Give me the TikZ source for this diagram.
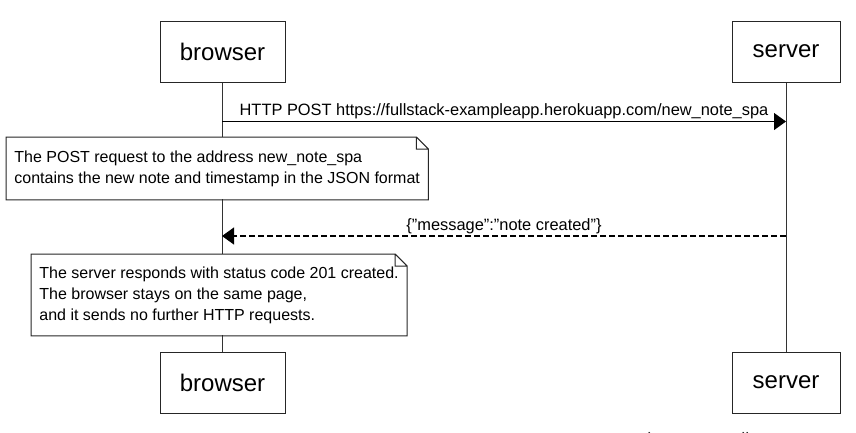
\documentclass[tikz,border=0pt]{standalone}
\usepackage{fontspec}
\setmainfont{Liberation Sans}
\usetikzlibrary{arrows.meta,backgrounds}

\begin{document}
\begin{tikzpicture}[x=1pt,y=-1pt,thick,
    actor box/.style={draw=black!85,line width=1pt,fill=white,minimum height=61pt,inner sep=0pt,font=\fontsize{24}{24}\selectfont},
    note box/.style={fill=white,inner xsep=8pt,inner ysep=0pt,align=left,anchor=north west,font=\fontsize{16}{21}\selectfont},
    msg/.style={line width=1.2pt,-{Triangle[length=12pt,width=17pt]}},
    reply/.style={msg,dash pattern=on 6pt off 3pt},
    msg label/.style={above=1pt,inner sep=1pt,font=\fontsize{16.4}{16.4}\selectfont},
    life line/.style={line width=1pt,black!80}]
                    \useasboundingbox (0,0) rectangle (856,432);

                    \node[actor box,minimum width=125pt] (browserTop) at (222.5,51.5) {browser};
                    \node[actor box,minimum width=108pt] (serverTop) at (786,51.5) {server};
                    \node[actor box,minimum width=125pt] (browserBot) at (222.5,382.5) {browser};
                    \node[actor box,minimum width=108pt] (serverBot) at (786,382.5) {server};

                    \begin{scope}[on background layer]
                        \draw[life line] (browserTop) -- (browserBot);
                        \draw[life line] (serverTop) -- (serverBot);
                    \end{scope}

                    \coordinate (req from) at (222,121.5);
                    \coordinate (req to) at (786,121.5);
                    \coordinate (res from) at (786,236);
                    \coordinate (res to) at (222,236);

                    \draw[msg] (req from) -- node[msg label]{HTTP POST https://fullstack-exampleapp.herokuapp.com/new\_note\_spa} (req to);
                    \draw[reply] (res from) -- node[msg label]{\{"message":"note created"\}} (res to);

                    % notes with a folded corner
                    \node[note box,minimum height=62pt] (note1) at (6,137)
                        {The POST request to the address new\_note\_spa\\contains the new note and timestamp in the JSON format};
                    \draw[line width=1pt,black!85] (note1.north west) -- ([xshift=-12pt]note1.north east) -- ([yshift=-12pt]note1.north east)
                        -- (note1.south east) -- (note1.south west) -- cycle
                        ([xshift=-12pt]note1.north east) |- ([yshift=-12pt]note1.north east);

                    \node[note box,minimum height=81pt] (note2) at (31,254)
                        {The server responds with status code 201 created.\\The browser stays on the same page,\\and it sends no further HTTP requests.};
                    \draw[line width=1pt,black!85] (note2.north west) -- ([xshift=-12pt]note2.north east) -- ([yshift=-12pt]note2.north east)
                        -- (note2.south east) -- (note2.south west) -- cycle
                        ([xshift=-12pt]note2.north east) |- ([yshift=-12pt]note2.north east);

                    \begin{scope}
                        \clip (0,0) rectangle (856,432);
                        \node[anchor=base west,inner sep=0pt,font=\fontsize{18}{18}\selectfont,black!80] (credit) at (581,445) {www.websequencediagrams.com};
                    \end{scope}
                \end{tikzpicture}
\end{document}
